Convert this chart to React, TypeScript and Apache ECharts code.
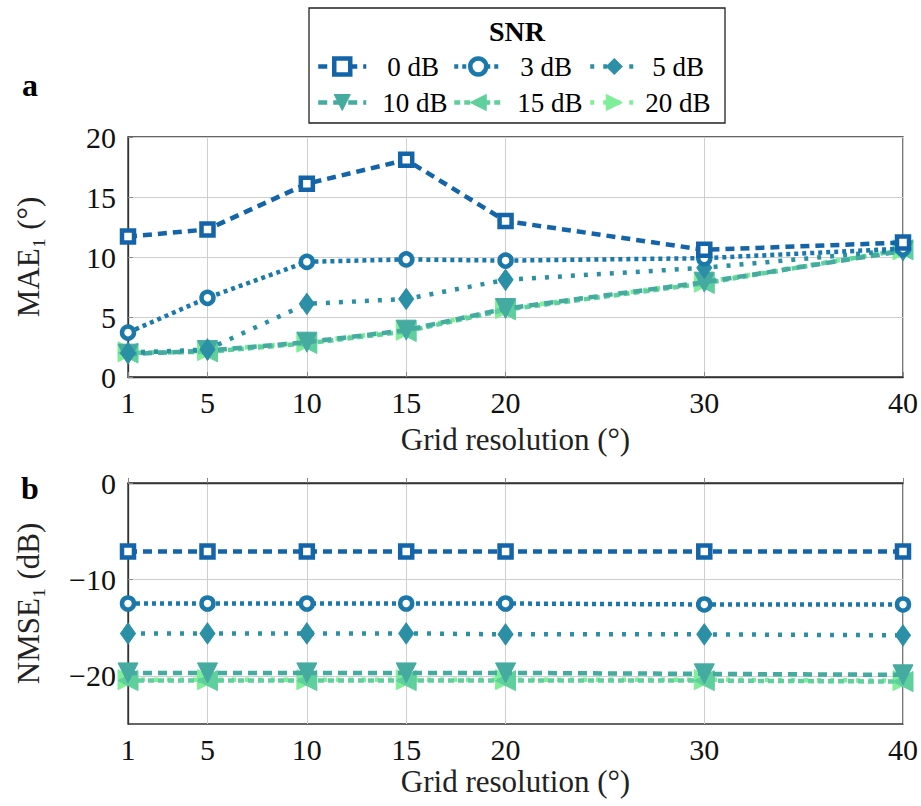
import React, { useEffect, useRef } from 'react';
import * as echarts from 'echarts';

const gridRes = [1, 5, 10, 15, 20, 30, 40];
const snrNames = ['0 dB', '3 dB', '5 dB', '10 dB', '15 dB', '20 dB'];
const nmseYTicks = [-20, -10, 0];

const mae0 = [11.7, 12.3, 16.1, 18.1, 13.0, 10.6, 11.2];
const mae3 = [3.7, 6.6, 9.6, 9.8, 9.7, 9.9, 10.7];
const mae5 = [2.0, 2.3, 6.1, 6.5, 8.1, 9.1, 10.6];
const mae10 = [1.9, 2.2, 2.9, 3.9, 5.7, 7.9, 10.5];
const mae15 = [2.0, 2.1, 2.8, 3.8, 5.6, 7.8, 10.6];
const mae20 = [2.1, 2.2, 2.9, 3.9, 5.7, 7.9, 10.6];

const nmse0 = [-7.1, -7.1, -7.1, -7.1, -7.1, -7.1, -7.1];
const nmse3 = [-12.5, -12.5, -12.5, -12.5, -12.5, -12.6, -12.6];
const nmse5 = [-15.6, -15.6, -15.6, -15.6, -15.7, -15.7, -15.8];
const nmse10 = [-19.7, -19.7, -19.7, -19.7, -19.7, -19.8, -19.9];
const nmse15 = [-20.5, -20.5, -20.5, -20.5, -20.5, -20.5, -20.6];
const nmse20 = [-20.4, -20.4, -20.4, -20.4, -20.4, -20.4, -20.5];

const maeData = [mae0, mae3, mae5, mae10, mae15, mae20];
const nmseData = [nmse0, nmse3, nmse5, nmse10, nmse15, nmse20];

const colors = ['#1364a8', '#1a78aa', '#2b8fa5', '#45aba0', '#5fcf9d', '#7eee98'];
const dashes = [[9, 6], [4, 4], [4, 9], [9, 6], [6, 4], [4, 9]];
const symbols = ['rect', 'circle', 'diamond', 'triangle', 'triangle', 'triangle'];
const rotations = [0, 0, 0, 180, 90, -90];
const hollow = [true, true, false, false, false, false];

const FONT = 'Liberation Serif';

function symSize(k: number): any {
  if (symbols[k] === 'diamond') return [15, 21];
  if (hollow[k]) return 12;
  return 20;
}

export default function App() {
  const ref = useRef<HTMLDivElement>(null);
  useEffect(() => {
    const chart = echarts.init(ref.current!, null, { renderer: 'svg' });
    const series: any[] = [];
    snrNames.forEach((name, k) => {
      [maeData, nmseData].forEach((dataset, g) => {
        series.push({
          name,
          type: 'line',
          xAxisIndex: g,
          yAxisIndex: g,
          data: gridRes.map((x, i) => [x, dataset[k][i]]),
          symbol: symbols[k],
          symbolRotate: rotations[k],
          symbolSize: symSize(k),
          showAllSymbol: true,
          lineStyle: { color: colors[k], width: 4.5, type: dashes[k] },
          itemStyle: hollow[k]
            ? { color: '#fff', borderColor: colors[k], borderWidth: 4.5 }
            : { color: colors[k], borderColor: colors[k], borderWidth: 1 },
          z: 10 - k,
        });
      });
    });

    const legendLefts = [316, 452, 588];
    const legendTops = [53, 89];
    const textPads = [16, 13, 9, 11, 10, 2];
    const legends = snrNames.map((name, k) => ({
      data: [name],
      left: legendLefts[k % 3],
      top: legendTops[Math.floor(k / 3)],
      itemWidth: 48,
      itemHeight: 20,
      padding: 0,
      lineStyle: { width: 4.5 },
      itemStyle: { borderWidth: hollow[k] ? 4.5 : 1 },
      textStyle: { fontFamily: FONT, fontSize: 27, color: '#000', padding: [0, 0, 0, textPads[k]] },
      selectedMode: false,
    }));

    const xAxisCommon = {
      type: 'value',
      min: 1,
      max: 40,
      name: 'Grid resolution (°)',
      nameLocation: 'middle',
      nameTextStyle: { fontFamily: FONT, fontSize: 31, color: '#222' },
      axisLine: { show: true, lineStyle: { color: '#333', width: 1.3 } },
      axisTick: { show: true, inside: true, length: 5, customValues: gridRes, lineStyle: { color: '#888' } },
      axisLabel: { customValues: gridRes, fontFamily: FONT, fontSize: 30, color: '#111', margin: 10 },
      splitLine: { show: true, lineStyle: { color: '#cfcfcf', width: 1 } },
    };

    const yAxisCommon = {
      type: 'value',
      nameLocation: 'middle',
      nameGap: 84,
      nameTextStyle: { fontFamily: FONT, fontSize: 31, color: '#222' },
      axisLine: { show: true, lineStyle: { color: '#333', width: 1.3 } },
      axisTick: { show: true, inside: true, length: 5, lineStyle: { color: '#888' } },
      splitLine: { show: true, lineStyle: { color: '#cfcfcf', width: 1 } },
    };

    chart.setOption({
      animation: false,
      backgroundColor: '#fff',
      grid: [
        { left: 128, right: 16, top: 137, height: 240, show: true, borderColor: '#333', borderWidth: 1.3 },
        { left: 128, right: 16, top: 483, height: 241, show: true, borderColor: '#333', borderWidth: 1.3 },
      ],
      xAxis: [
        { ...xAxisCommon, gridIndex: 0, nameGap: 47 },
        { ...xAxisCommon, gridIndex: 1, nameGap: 42 },
      ],
      yAxis: [
        {
          ...yAxisCommon,
          gridIndex: 0,
          min: 0,
          max: 20,
          interval: 5,
          name: 'MAE₁ (°)',
          axisLabel: { fontFamily: FONT, fontSize: 30, color: '#111', margin: 12 },
        },
        {
          ...yAxisCommon,
          gridIndex: 1,
          min: -25,
          max: 0,
          name: 'NMSE₁ (dB)',
          axisTick: { ...yAxisCommon.axisTick, customValues: nmseYTicks },
          axisLabel: {
            customValues: nmseYTicks,
            fontFamily: FONT,
            fontSize: 30,
            color: '#111',
            margin: 12,
            formatter: (v: number) => (v < 0 ? '−' + Math.abs(v) : String(v)),
          },
        },
      ],
      legend: legends,
      graphic: [
        { type: 'rect', shape: { x: 309, y: 8, width: 416, height: 115 }, style: { fill: '#fff', stroke: '#222', lineWidth: 1.3 }, z: -1 },
        { type: 'text', x: 517, y: 31, style: { text: 'SNR', fontFamily: FONT, fontWeight: 'bold', fontSize: 28, fill: '#000', align: 'center', verticalAlign: 'middle' } },
        { type: 'text', x: 30, y: 85, style: { text: 'a', fontFamily: FONT, fontWeight: 'bold', fontSize: 32, fill: '#000', align: 'center', verticalAlign: 'middle' } },
        { type: 'text', x: 30, y: 488, style: { text: 'b', fontFamily: FONT, fontWeight: 'bold', fontSize: 32, fill: '#000', align: 'center', verticalAlign: 'middle' } },
      ],
      series,
    });
    return () => chart.dispose();
  }, []);
  return <div ref={ref} style={{ position: 'absolute', left: 0, top: 0, width: 921, height: 806 }} />;
}
